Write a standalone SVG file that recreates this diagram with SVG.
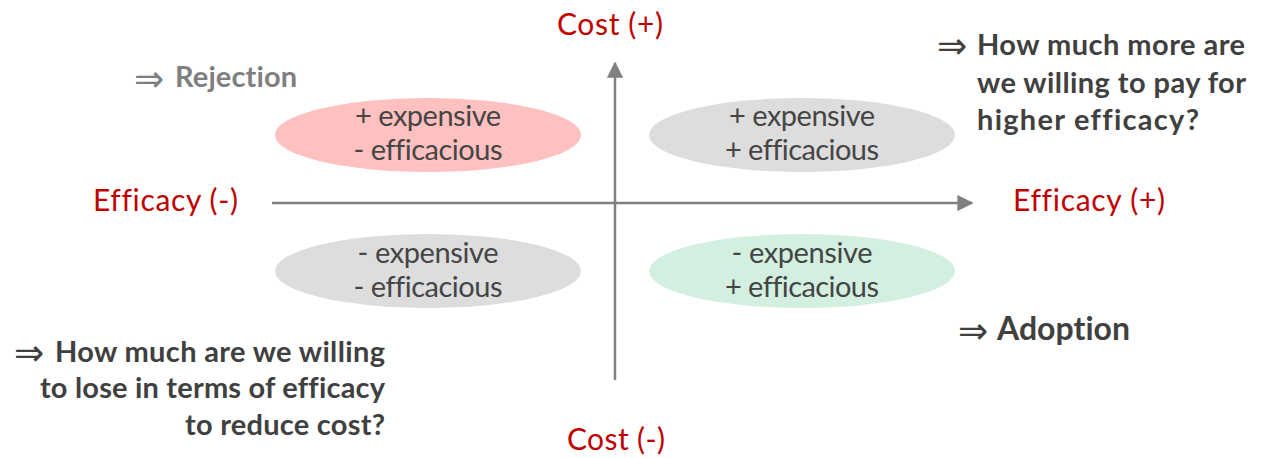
<svg xmlns="http://www.w3.org/2000/svg" width="1270" height="458" viewBox="0 0 1270 458">
<style>
text{font-variant-ligatures:none;font-feature-settings:"liga" 0}
.ax{stroke:#808080;stroke-width:2.5;fill:none}
.red{fill:#C00000;font-family:Lato,"Open Sans",sans-serif;font-size:30px}
.el{font-family:Lato,"Open Sans",sans-serif;font-size:29px;fill:#454545;text-anchor:middle}
.b{font-family:Lato,"Open Sans",sans-serif;font-weight:bold;font-size:29px;fill:#404040}
.arr{font-family:"DejaVu Sans",sans-serif;font-size:36px;fill:#404040}
</style>
<defs>
<marker id="ah" viewBox="0 0 10 10" refX="9" refY="5" markerWidth="6.5" markerHeight="6.5" markerUnits="strokeWidth" orient="auto">
<path d="M0,0 L10,5 L0,10 z" fill="#808080"/>
</marker>
</defs>
<rect width="1270" height="458" fill="#fff"/>
<g id="connectors">
<line class="ax" x1="272" y1="203" x2="972" y2="203" marker-end="url(#ah)"/>
<line class="ax" x1="615" y1="380" x2="615" y2="63" marker-end="url(#ah)"/>
</g>
<g id="q-tl"><ellipse cx="428" cy="135" rx="153" ry="37" fill="#FFC0C0"/>
<text class="el" x="428" y="126" textLength="146">+ expensive</text><text class="el" x="428" y="160" textLength="149">- efficacious</text></g>
<g id="q-tr"><ellipse cx="802" cy="135" rx="153" ry="37" fill="#DDDDDD"/>
<text class="el" x="802" y="126" textLength="146">+ expensive</text><text class="el" x="802" y="160" textLength="154">+ efficacious</text></g>
<g id="q-bl"><ellipse cx="428" cy="271" rx="153" ry="37" fill="#DDDDDD"/>
<text class="el" x="428" y="263" textLength="141">- expensive</text><text class="el" x="428" y="297" textLength="149">- efficacious</text></g>
<g id="q-br"><ellipse cx="802" cy="271" rx="153" ry="37" fill="#D3EFE0"/>
<text class="el" x="802" y="263" textLength="141">- expensive</text><text class="el" x="802" y="297" textLength="154">+ efficacious</text></g>
<g id="labels">
<text class="red" x="557" y="35" textLength="106">Cost (+)</text>
<text class="red" x="567" y="450" textLength="98">Cost (-)</text>
<text class="red" x="93" y="211" textLength="145">Efficacy (-)</text>
<text class="red" x="1013" y="211" textLength="152">Efficacy (+)</text>
</g>
<g id="rejection">
<text class="arr" x="134" y="91" style="fill:#7F7F7F">⇒</text>
<text class="b" x="175" y="87" textLength="122" style="fill:#7F7F7F">Rejection</text>
</g>
<g id="pay-more">
<text class="arr" x="937" y="58">⇒</text>
<text class="b" x="977" y="55" textLength="268">How much more are</text>
<text class="b" x="977" y="93" textLength="269">we willing to pay for</text>
<text class="b" x="977" y="130" textLength="222">higher efficacy?</text>
</g>
<g id="adoption">
<text class="arr" x="958" y="343">⇒</text>
<text class="b" x="997" y="340" textLength="133" style="font-size:32px">Adoption</text>
</g>
<g id="lose">
<text class="arr" x="14" y="365">⇒</text>
<text class="b" x="55" y="362" textLength="330">How much are we willing</text>
<text class="b" x="40" y="398" textLength="345">to lose in terms of efficacy</text>
<text class="b" x="185" y="435" textLength="200">to reduce cost?</text>
</g>
</svg>
